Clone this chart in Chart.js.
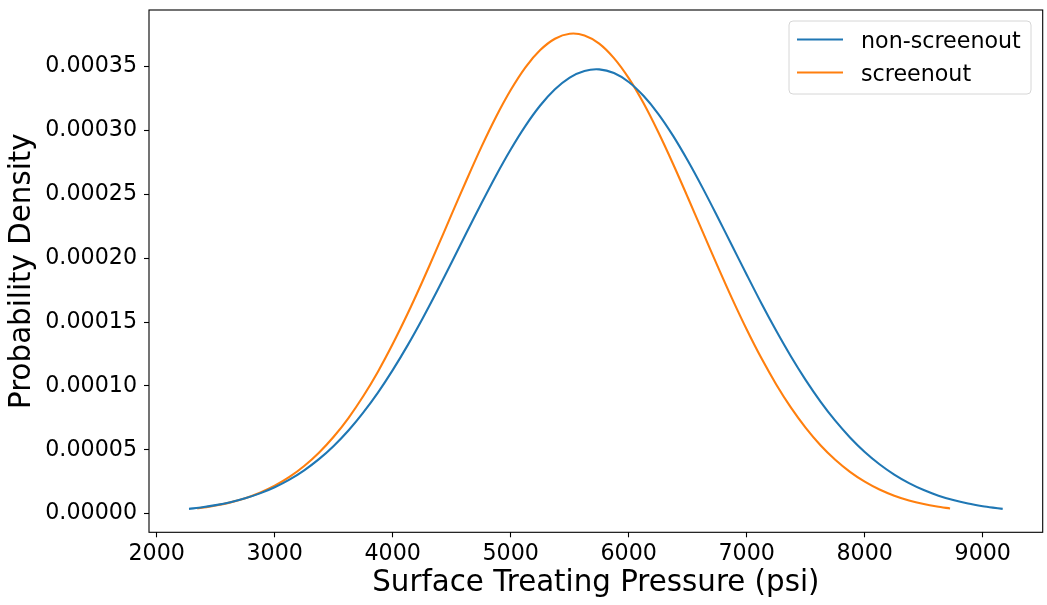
<!DOCTYPE html>
<html lang="en">
<head>
    <meta charset="UTF-8">
    <title>Surface Treating Pressure</title>
    <script src="https://cdn.jsdelivr.net/npm/chart.js@4.4.0/dist/chart.umd.min.js"></script>
    <style>
        body { margin: 0; background: #fff; }
        canvas { display: block; }
    </style>
</head>
<body>
<canvas id="pdfChart" width="1047" height="605"></canvas>
<script>
    // values
    const nonScreenoutPsi = [2274, 2387, 2500, 2625, 2750, 2875, 3000, 3125, 3250, 3375,
        3500, 3625, 3750, 3875, 4000, 4125, 4250, 4375, 4500, 4625,
        4750, 4875, 5000, 5125, 5250, 5375, 5500, 5625, 5750, 5875,
        6000, 6125, 6250, 6375, 6500, 6625, 6750, 6875, 7000, 7125,
        7250, 7375, 7500, 7625, 7750, 7875, 8000, 8125, 8250, 8375,
        8500, 8625, 8750, 8875, 9000, 9085, 9169];
    const nonScreenoutDensity = [0.00000376, 0.00000503, 0.00000667, 0.00000901, 0.00001204, 0.00001587, 0.00002069, 0.00002664, 0.00003393, 0.00004266,
        0.0000530, 0.0000651, 0.0000791, 0.0000948, 0.0001124, 0.0001316, 0.0001523, 0.0001742, 0.0001969, 0.0002199,
        0.0002427, 0.0002647, 0.0002852, 0.0003037, 0.0003196, 0.0003323, 0.0003415, 0.0003467, 0.0003479, 0.0003450,
        0.0003380, 0.0003272, 0.0003131, 0.0002960, 0.0002765, 0.0002553, 0.0002329, 0.0002100, 0.0001871, 0.0001646,
        0.0001432, 0.0001231, 0.0001046, 0.0000878, 0.0000728, 0.0000597, 0.0000483, 0.0000387, 0.0000306, 0.00002392,
        0.00001848, 0.00001409, 0.00001063, 0.00000792, 0.00000583, 0.00000471, 0.00000376];

    const screenoutPsi = [2344, 2422, 2500, 2625, 2750, 2875, 3000, 3125, 3250, 3375,
        3500, 3625, 3750, 3875, 4000, 4125, 4250, 4375, 4500, 4625,
        4750, 4875, 5000, 5125, 5250, 5375, 5500, 5625, 5750, 5875,
        6000, 6125, 6250, 6375, 6500, 6625, 6750, 6875, 7000, 7125,
        7250, 7375, 7500, 7625, 7750, 7875, 8000, 8125, 8250, 8375,
        8500, 8612, 8723];
    const screenoutDensity = [0.00000413, 0.00000514, 0.00000635, 0.00000884, 0.00001211, 0.00001639, 0.00002186, 0.00002874, 0.00003729, 0.00004772,
        0.0000602, 0.0000749, 0.0000919, 0.0001112, 0.0001328, 0.0001563, 0.0001814, 0.0002077, 0.0002345, 0.0002611,
        0.0002868, 0.0003106, 0.0003317, 0.0003495, 0.0003630, 0.0003719, 0.0003758, 0.0003745, 0.0003681, 0.0003567,
        0.0003410, 0.0003215, 0.0002988, 0.0002740, 0.0002478, 0.0002210, 0.0001944, 0.0001686, 0.0001442, 0.0001216,
        0.0001012, 0.0000830, 0.0000672, 0.0000536, 0.0000422, 0.00003276, 0.00002508, 0.00001893, 0.00001410, 0.00001035,
        0.00000749, 0.00000555, 0.00000407];

    const xTicks = [2000, 3000, 4000, 5000, 6000, 7000, 8000, 9000];
    const yTicks = [0, 0.00005, 0.00010, 0.00015, 0.00020, 0.00025, 0.00030, 0.00035];

    const FONT = '"DejaVu Sans", sans-serif';
    const TICK_SIZE = 22.2;
    const TITLE_SIZE = 29.3;

    function toPoints(xs, ys) {
        return xs.map((x, i) => ({ x: x, y: ys[i] }));
    }

    // full box around the plot, like matplotlib spines
    const frame = {
        id: 'frame',
        afterDatasetsDraw(chart) {
            const { ctx, chartArea: a } = chart;
            ctx.save();
            ctx.strokeStyle = '#000';
            ctx.lineWidth = 1.1;
            ctx.strokeRect(a.left, a.top, a.right - a.left, a.bottom - a.top);
            ctx.restore();
        }
    };

    // legend box in the upper right corner
    const boxLegend = {
        id: 'boxLegend',
        afterDraw(chart) {
            const ctx = chart.ctx;
            const x0 = 789, y0 = 21, w = 242, h = 73, r = 4;
            ctx.save();
            ctx.beginPath();
            ctx.roundRect(x0, y0, w, h, r);
            ctx.fillStyle = 'rgba(255,255,255,0.8)';
            ctx.fill();
            ctx.strokeStyle = '#d6d6d6';
            ctx.lineWidth = 1;
            ctx.stroke();
            ctx.font = TICK_SIZE + 'px ' + FONT;
            ctx.textBaseline = 'alphabetic';
            chart.data.datasets.forEach((ds, i) => {
                const ly = 39.5 + i * 33;
                ctx.beginPath();
                ctx.moveTo(797, ly);
                ctx.lineTo(843, ly);
                ctx.strokeStyle = ds.borderColor;
                ctx.lineWidth = 2.1;
                ctx.stroke();
                ctx.fillStyle = '#000';
                ctx.fillText(ds.label, 861, 48.3 + i * 33);
            });
            ctx.restore();
        }
    };

    const ctx = document.getElementById('pdfChart').getContext('2d');
    new Chart(ctx, {
        type: 'scatter',
        data: {
            datasets: [{
                label: 'non-screenout',
                data: toPoints(nonScreenoutPsi, nonScreenoutDensity),
                borderColor: '#1f77b4',
                backgroundColor: '#1f77b4',
                showLine: true,
                borderWidth: 2.1,
                pointRadius: 0,
                tension: 0.3
            }, {
                label: 'screenout',
                data: toPoints(screenoutPsi, screenoutDensity),
                borderColor: '#ff7f0e',
                backgroundColor: '#ff7f0e',
                showLine: true,
                borderWidth: 2.1,
                pointRadius: 0,
                tension: 0.3
            }]
        },
        options: {
            responsive: false,
            animation: false,
            layout: { padding: { left: 0, right: 4.3, top: 10, bottom: 0 } },
            plugins: {
                legend: { display: false },
                tooltip: { enabled: false }
            },
            scales: {
                x: {
                    type: 'linear',
                    min: 1935,
                    max: 9508,
                    afterBuildTicks: scale => { scale.ticks = xTicks.map(v => ({ value: v })); },
                    afterFit: scale => {
                        scale.height = 72.7;
                        scale.paddingLeft = 0;
                        scale.paddingRight = 0;
                    },
                    border: { display: false },
                    grid: { drawOnChartArea: false, drawTicks: true, tickLength: 5, tickColor: '#000', tickWidth: 1.1 },
                    ticks: {
                        color: '#000',
                        padding: 3.4,
                        maxRotation: 0,
                        font: { family: FONT, size: TICK_SIZE, lineHeight: 1.2 },
                        callback: v => String(v)
                    },
                    title: {
                        display: true,
                        text: 'Surface Treating Pressure (psi)',
                        color: '#000',
                        font: { family: FONT, size: TITLE_SIZE, lineHeight: 1.2 },
                        padding: { top: 0, bottom: 3.9 }
                    }
                },
                y: {
                    type: 'linear',
                    min: -0.0000146,
                    max: 0.0003944,
                    afterBuildTicks: scale => { scale.ticks = yTicks.map(v => ({ value: v })); },
                    afterFit: scale => {
                        scale.width = 149;
                        scale.paddingTop = 0;
                        scale.paddingBottom = 0;
                    },
                    border: { display: false },
                    grid: { drawOnChartArea: false, drawTicks: true, tickLength: 5, tickColor: '#000', tickWidth: 1.1 },
                    ticks: {
                        color: '#000',
                        padding: 7,
                        font: { family: FONT, size: TICK_SIZE, lineHeight: 1.2 },
                        callback: v => v.toFixed(5)
                    },
                    title: {
                        display: true,
                        text: 'Probability Density',
                        color: '#000',
                        font: { family: FONT, size: TITLE_SIZE, lineHeight: 1.2 },
                        padding: { top: 4.7, bottom: 0 }
                    }
                }
            }
        },
        plugins: [frame, boxLegend]
    });
</script>
</body>
</html>
